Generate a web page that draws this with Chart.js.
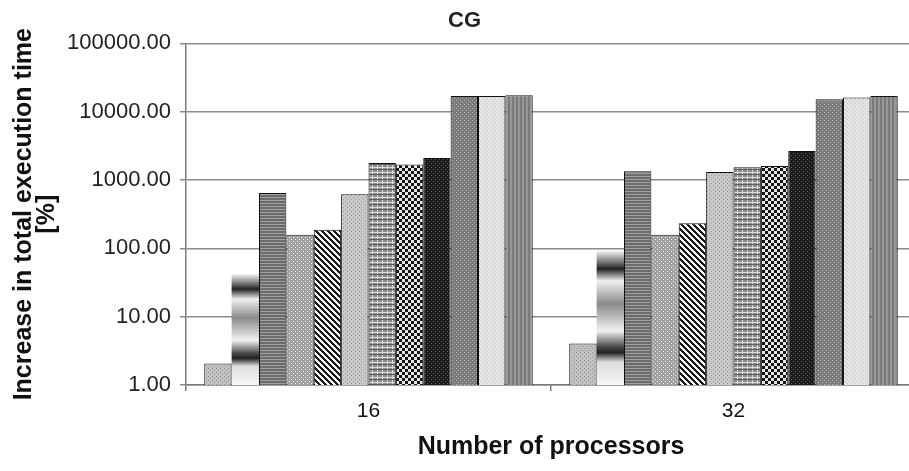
<!DOCTYPE html>
<html>
<head>
<meta charset="utf-8">
<script src="https://cdn.jsdelivr.net/npm/chart.js@4.4.0/dist/chart.umd.min.js"></script>
<style>
  html, body { margin: 0; padding: 0; background: #fff; overflow: hidden; }
  #wrap { position: relative; width: 918px; height: 471px; }
</style>
</head>
<body>
<div id="wrap"><canvas id="chart"></canvas></div>
<script>
// categories (number of processors)
const categories = ['16', '32'];
// one value per bar, left to right, for each category
const values16 = [2.06, 43, 646, 158, 187, 620, 1780, 1690, 2110, 17000, 17000, 17400];
const values32 = [4.04, 95, 1346, 158, 234, 1315, 1540, 1600, 2650, 15200, 16100, 17000];
const yTicks = [1, 10, 100, 1000, 10000, 100000];

// small tiled fills that mimic the grey hatch patterns of the original
function makePattern(w, h, draw) {
  const c = document.createElement('canvas');
  c.width = w; c.height = h;
  const g = c.getContext('2d');
  draw(g);
  return g.createPattern(c, 'repeat');
}
function dots(bg, fg, pts, w, h) {
  return makePattern(w || 4, h || 4, g => {
    g.fillStyle = bg; g.fillRect(0, 0, w || 4, h || 4);
    g.fillStyle = fg;
    pts.forEach(p => g.fillRect(p[0], p[1], 1, 1));
  });
}

const pLight = dots('#c0c0c0', '#949494', [[0, 0], [2, 2]]);
const pHStripe = makePattern(2, 3, g => {
  g.fillStyle = '#6c6c6c'; g.fillRect(0, 0, 2, 3);
  g.fillStyle = '#a0a0a0'; g.fillRect(0, 2, 2, 1);
});
const pDotMid = dots('#a2a2a2', '#eeeeee', [[1, 1], [3, 3]]);
const pDiag = makePattern(6, 6, g => {
  for (let x = 0; x < 6; x++) for (let y = 0; y < 6; y++) {
    g.fillStyle = ((x - y + 6) % 6) < 3 ? '#1a1a1a' : '#f4f4f4';
    g.fillRect(x, y, 1, 1);
  }
});
const pLight2 = dots('#c8c8c8', '#9a9a9a', [[1, 1], [3, 3]]);
const pPlaid = makePattern(5, 5, g => {
  g.fillStyle = '#8a8a8a'; g.fillRect(0, 0, 5, 5);
  g.fillStyle = '#dcdcdc'; g.fillRect(0, 2, 5, 1); g.fillRect(2, 0, 1, 5);
  g.fillStyle = '#5e5e5e'; g.fillRect(0, 4, 5, 1);
});
const pCheck = makePattern(6, 6, g => {
  g.fillStyle = '#e8e8e8'; g.fillRect(0, 0, 6, 6);
  g.fillStyle = '#141414'; g.fillRect(0, 0, 3, 3); g.fillRect(3, 3, 3, 3);
});
const pDark = dots('#1c1c1c', '#5a5a5a', [[1, 1], [3, 3]]);
const pDarkGrey = dots('#7a7a7a', '#b4b4b4', [[0, 0], [2, 2]]);
const pPale = dots('#e4e4e4', '#c2c2c2', [[1, 1], [3, 3]]);
const pVStripe = makePattern(4, 1, g => {
  g.fillStyle = '#7a7a7a'; g.fillRect(0, 0, 2, 1);
  g.fillStyle = '#979797'; g.fillRect(2, 0, 2, 1);
});

// banded grey gradient fill, stretched over each bar's own height
function bandFill(ctx) {
  const chart = ctx.chart;
  if (ctx.type !== 'data' || !chart.chartArea) return '#bbbbbb';
  const y = chart.scales.y;
  const top = y.getPixelForValue(ctx.raw);
  const bottom = y.getPixelForValue(y.min);
  const gr = chart.ctx.createLinearGradient(0, top, 0, bottom);
  gr.addColorStop(0, '#ffffff');
  gr.addColorStop(0.1, '#666666');
  gr.addColorStop(0.14, '#222222');
  gr.addColorStop(0.23, '#f0f0f0');
  gr.addColorStop(0.4, '#8a8a8a');
  gr.addColorStop(0.6, '#f2f2f2');
  gr.addColorStop(0.72, '#444444');
  gr.addColorStop(0.76, '#222222');
  gr.addColorStop(0.83, '#dddddd');
  gr.addColorStop(1, '#f6f6f6');
  return gr;
}

const fills = [pLight, bandFill, pHStripe, pDotMid, pDiag, pLight2, pPlaid, pCheck, pDark, pDarkGrey, pPale, pVStripe];

const datasets = values16.map((v, i) => ({
  label: 'Series ' + (i + 1),
  data: [values16[i], values32[i]],
  backgroundColor: fills[i],
  borderColor: '#111111',
  borderWidth: i === 1 ? 0 : 1,
  categoryPercentage: 0.9,
  barPercentage: 1.0
}));

new Chart(document.getElementById('chart'), {
  type: 'bar',
  data: { labels: categories, datasets: datasets },
  options: {
    responsive: true,
    maintainAspectRatio: false,
    animation: false,
    layout: { padding: { left: 13, right: 2, top: 0, bottom: 9 } },
    plugins: {
      legend: { display: false },
      tooltip: { enabled: false },
      title: {
        display: true,
        text: 'CG',
        color: '#222',
        font: { family: 'Liberation Sans, Arial, sans-serif', size: 22, weight: 'bold' },
        padding: { top: 8, bottom: 9 }
      }
    },
    scales: {
      x: {
        border: { color: '#7a7a7a', width: 1.5 },
        grid: { display: true, drawOnChartArea: false, offset: true, tickLength: 6, color: '#7a7a7a', lineWidth: 1.5 },
        ticks: { color: '#111', padding: 10, font: { family: 'Liberation Sans, Arial, sans-serif', size: 21, lineHeight: 1.0 } },
        title: {
          display: true,
          text: 'Number of processors',
          color: '#111',
          font: { family: 'Liberation Sans, Arial, sans-serif', size: 25, weight: 'bold' },
          padding: { top: 0, bottom: 0 }
        }
      },
      y: {
        type: 'logarithmic',
        min: 1,
        max: 100000,
        border: { color: '#7a7a7a', width: 1.5 },
        grid: { color: '#8c8c8c', lineWidth: 1.5, tickLength: 6 },
        afterBuildTicks: scale => { scale.ticks = yTicks.map(v => ({ value: v })); },
        ticks: {
          color: '#222',
          padding: 9,
          font: { family: 'Liberation Sans, Arial, sans-serif', size: 22 },
          callback: v => Number(v).toFixed(2)
        },
        title: {
          display: true,
          text: ['Increase in total execution time', '[%]'],
          color: '#111',
          font: { family: 'Liberation Sans, Arial, sans-serif', size: 25, weight: 'bold', lineHeight: 0.9 },
          padding: 0
        }
      }
    }
  }
});
</script>
</body>
</html>
